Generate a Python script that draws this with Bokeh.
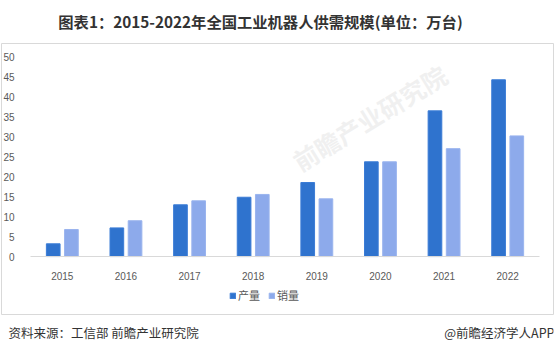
from bokeh.plotting import figure
from bokeh.layouts import column
from bokeh.models import (ColumnDataSource, Range1d, Legend, LegendItem,
                          Label, FixedTicker)
from bokeh.transform import dodge
from bokeh.embed import file_html
from bokeh.resources import INLINE

years = ["2015", "2016", "2017", "2018", "2019", "2020", "2021", "2022"]
production = [3.2, 7.2, 13.0, 14.9, 18.6, 23.8, 36.6, 44.4]
sales = [6.8, 9.0, 14.0, 15.6, 14.5, 23.8, 27.1, 30.3]
y_ticks = [0, 5, 10, 15, 20, 25, 30, 35, 40, 45, 50]
series_names = ["产量", "销量"]
title_text = "图表1：2015-2022年全国工业机器人供需规模(单位：万台)"
source_text = "资料来源：工信部 前瞻产业研究院"
brand_text = "@前瞻经济学人APP"
watermark_text = "前瞻产业研究院"

CJK = "Noto Sans CJK SC"
C_PROD = "#2F73CE"
C_SALE = "#8DAAEB"
C_BOX = "#D9D9D9"
C_TICK = "#595959"


def text_fig(w, h):
    f = figure(width=w, height=h, x_range=Range1d(0, w), y_range=Range1d(0, h),
               output_backend="svg", toolbar_location=None, min_border=0,
               x_axis_location=None, y_axis_location=None)
    f.grid.visible = False
    f.outline_line_color = None
    return f


# title strip
top = text_fig(554, 42)
top.add_layout(Label(x=259, y=22, x_units="screen", y_units="screen", text=title_text,
                     text_font=CJK, text_font_size="15.3px", text_font_style="bold",
                     text_color="#333333", text_align="center", text_baseline="middle"))

# chart: the frame is the outer box; axes are pinned inside it
xc = [i + 0.5 for i in range(len(years))]
src = ColumnDataSource(dict(xc=xc, production=production, sales=sales))
p = figure(width=554, height=273, x_range=Range1d(-0.456, 8.22),
           y_range=Range1d(-14.55, 53.51), output_backend="svg", toolbar_location=None,
           min_border=1)
p.outline_line_color = C_BOX
p.outline_line_width = 1
p.xgrid.grid_line_color = None
p.ygrid.grid_line_color = None

p.add_layout(Label(x=368, y=197, x_units="screen", y_units="screen", text=watermark_text,
                   text_font=CJK, text_font_size="25px", text_font_style="bold",
                   text_color="#E4E4E4", text_alpha=0.55, angle=0.55,
                   text_align="center", text_baseline="middle", level="underlay"))

r1 = p.vbar(x=dodge("xc", -0.143), top="production", width=0.215,
            source=src, fill_color=C_PROD, line_color="#3B7CD6", line_width=1)
r2 = p.vbar(x=dodge("xc", 0.143), top="sales", width=0.215,
            source=src, fill_color=C_SALE, line_color="#9AB4EE", line_width=1)

p.yaxis.fixed_location = 0
p.yaxis.ticker = FixedTicker(ticks=y_ticks)
p.yaxis.axis_line_color = None
p.yaxis.major_tick_line_color = None
p.yaxis.minor_tick_line_color = None
p.yaxis.major_label_standoff = 10
p.yaxis.major_label_text_font = "Liberation Sans"
p.yaxis.major_label_text_font_size = "10px"
p.yaxis.major_label_text_color = C_TICK

p.xaxis.fixed_location = 0
p.xaxis.bounds = (0, len(years))
p.xaxis.ticker = FixedTicker(ticks=xc)
p.xaxis.major_label_overrides = {x: y for x, y in zip(xc, years)}
p.xaxis.axis_line_color = C_BOX
p.xaxis.major_tick_line_color = None
p.xaxis.minor_tick_line_color = None
p.xaxis.major_label_standoff = 9
p.xaxis.major_label_text_font = "Liberation Sans"
p.xaxis.major_label_text_font_size = "10px"
p.xaxis.major_label_text_color = C_TICK

legend = Legend(items=[LegendItem(label=series_names[0], renderers=[r1]),
                       LegendItem(label=series_names[1], renderers=[r2])],
                orientation="horizontal", location=(228, 11),
                label_text_font=CJK, label_text_font_size="11px",
                label_text_color=C_TICK, glyph_width=7, glyph_height=7,
                label_standoff=2, spacing=8, padding=0, margin=0,
                label_height=12,
                background_fill_alpha=0, border_line_color=None)
p.add_layout(legend, "center")

# footer strip
bot = text_fig(554, 39)
bot.add_layout(Label(x=7, y=22, x_units="screen", y_units="screen", text=source_text,
                     text_font=CJK, text_font_size="12.5px", text_color="#333333",
                     text_align="left", text_baseline="middle"))
bot.add_layout(Label(x=553, y=22, x_units="screen", y_units="screen", text=brand_text,
                     text_font=CJK, text_font_size="12.5px", text_color="#333333",
                     text_align="right", text_baseline="middle"))

layout = column(top, p, bot, spacing=0)
open("out.html", "w").write(file_html(layout, INLINE))
